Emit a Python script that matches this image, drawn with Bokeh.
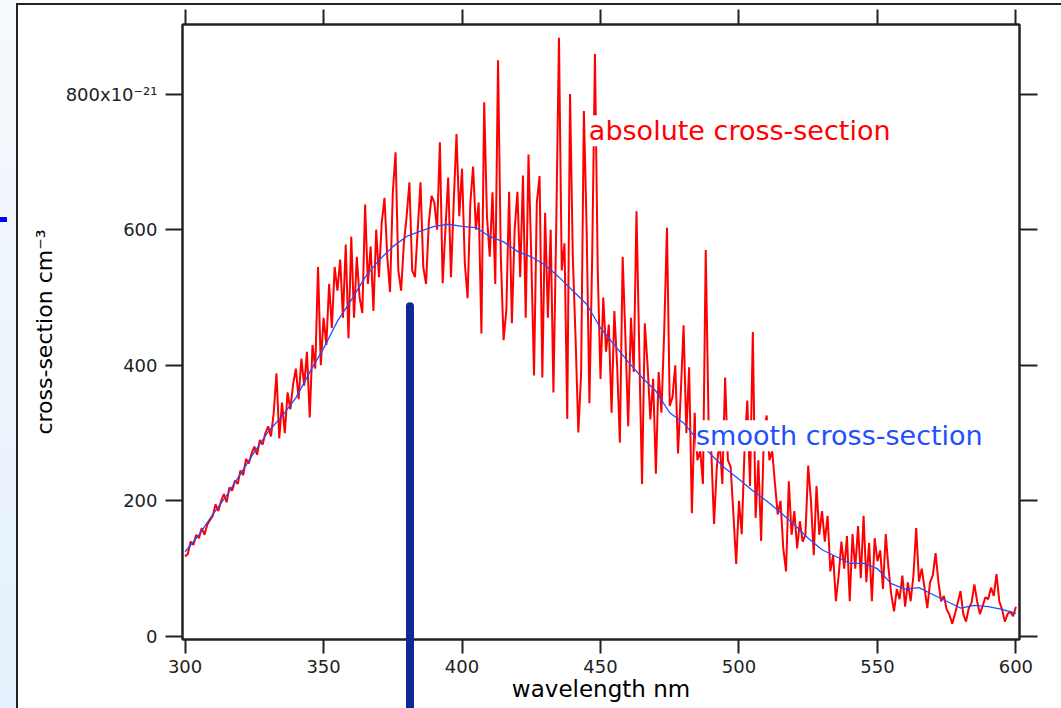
import numpy as np
from bokeh.plotting import figure
from bokeh.models import LinearAxis, Range1d, Label, FixedTicker, InlineStyleSheet
from bokeh.embed import file_html
from bokeh.resources import INLINE

# ---------------- data ----------------
wavelength_abs = list(range(300, 601))
absolute_xs = [
    118, 122, 140, 135, 150, 145, 160, 150, 165, 172,
    178, 195, 185, 200, 210, 198, 220, 215, 230, 225,
    245, 238, 262, 255, 270, 280, 268, 290, 283, 300,
    310, 295, 330, 388, 292, 345, 300, 360, 335, 372,
    395, 350, 410, 370, 420, 323, 430, 395, 545, 400,
    470, 430, 520, 455, 545, 510, 556, 470, 578, 440,
    590, 470, 560, 500, 477, 637, 520, 575, 480, 600,
    530, 610, 647, 560, 508, 655, 714, 540, 510, 580,
    620, 670, 540, 530, 600, 670, 545, 520, 610, 650,
    640, 600, 729, 521, 600, 677, 530, 640, 741, 620,
    690, 551, 499, 640, 693, 600, 640, 447, 788, 620,
    560, 655, 520, 850, 560, 437, 481, 656, 462, 600,
    656, 530, 680, 470, 711, 560, 385, 640, 679, 382,
    625, 470, 600, 360, 600, 883, 540, 580, 321, 800,
    560, 440, 301, 388, 775, 600, 344, 560, 859, 541,
    380, 500, 420, 460, 330, 480, 400, 286, 560, 440,
    310, 470, 390, 627, 420, 225, 462, 400, 320, 380,
    240, 390, 330, 450, 603, 340, 353, 400, 270, 360,
    459, 300, 397, 182, 330, 260, 274, 225, 570, 320,
    274, 166, 250, 290, 225, 382, 260, 250, 180, 107,
    200, 151, 274, 348, 222, 449, 175, 260, 141, 300,
    326, 260, 274, 225, 180, 200, 130, 96, 229, 150,
    185, 130, 170, 140, 150, 252, 200, 120, 222, 150,
    185, 140, 178, 96, 120, 52, 90, 140, 100, 148,
    52, 151, 100, 163, 86, 178, 80, 138, 52, 145,
    111, 127, 70, 151, 100, 62, 37, 70, 55, 90,
    44, 80, 52, 90, 160, 81, 100, 72, 42, 80,
    90, 123, 81, 52, 60, 40, 32, 19, 33, 50,
    67, 33, 22, 42, 50, 77, 52, 33, 45, 58,
    55, 72, 60, 92, 52, 40, 22, 33, 37, 30,
    44,
]
wavelength_smooth = list(range(300, 601, 5))
smooth_xs = [
    125, 150, 180, 208, 240, 272, 302, 325, 352, 390,
    425, 465, 496, 530, 555, 575, 590, 598, 605, 608,
    605, 603, 590, 582, 568, 560, 548, 530, 510, 490,
    455, 430, 405, 382, 362, 330, 315, 290, 268, 248,
    232, 215, 200, 183, 165, 145, 128, 118, 108, 108,
    100, 78, 70, 72, 62, 52, 42, 46, 44, 40,
    34,
]
marker_wavelength = [381.2]
marker_top = [487]
x_ticks = [300, 350, 400, 450, 500, 550, 600]
y_ticks = [0, 200, 400, 600, 800]
y_tick_labels = {0: "0", 200: "200", 400: "400", 600: "600", 800: "800x10\u207b\u00b2\u00b9"}

RED = "#ff0000"
BLUE = "#1f4fff"
NAVY = "#0b2a94"
AX = "#222222"
FONT = "DejaVu Sans"

# slide decorations around the graph window (page background + overlay pointer stub)
slide_css = InlineStyleSheet(css="""
:host {
  background:
    linear-gradient(#0000ff, #0000ff) 0px 217px / 7px 5px no-repeat,
    linear-gradient(#222, #222) 16px 3px / 1045px 2px no-repeat,
    linear-gradient(#222, #222) 16px 3px / 2px 705px no-repeat,
    linear-gradient(to bottom, #f6f9fd, #e4f0fb) 0px 0px / 16px 708px no-repeat,
    #ffffff;
}
:host::after {
  content: "";
  position: absolute;
  left: 405.5px;
  top: 600px;
  width: 8px;
  height: 108px;
  background: #0b2a94;
  pointer-events: none;
}
""")

p = figure(width=1061, height=708, output_backend="svg", toolbar_location=None,
           x_range=Range1d(299.06, 601.3), y_range=Range1d(-4.4, 902.6),
           min_border_left=182, min_border_right=42, min_border_top=24, min_border_bottom=69,
           x_axis_location=None, y_axis_location=None)
p.stylesheets = [slide_css]
p.grid.visible = False
p.outline_line_color = AX
p.outline_line_width = 2
p.background_fill_color = "white"
p.border_fill_color = None


def style(ax, ticks, out, labels=None):
    ax.ticker = FixedTicker(ticks=ticks)
    ax.axis_line_color = AX
    ax.axis_line_width = 2
    ax.major_tick_line_color = AX
    ax.major_tick_line_width = 2
    ax.major_tick_in = 0
    ax.major_tick_out = out
    ax.minor_tick_line_color = None
    ax.major_label_text_font = FONT
    ax.major_label_text_font_size = "18px"
    ax.major_label_text_color = AX
    if labels is not None:
        ax.major_label_overrides = labels


left = LinearAxis(axis_label="cross-section cm\u207b\u00b3")
style(left, y_ticks, 17, y_tick_labels)
left.major_label_standoff = 8
left.axis_label_standoff = 6
left.axis_label_text_font = FONT
left.axis_label_text_font_size = "22px"
left.axis_label_text_font_style = "normal"
left.axis_label_text_color = "black"
p.add_layout(left, "left")

bottom = LinearAxis(axis_label="wavelength nm")
style(bottom, x_ticks, 14)
bottom.major_label_standoff = 6
bottom.axis_label_standoff = 0
bottom.axis_label_text_font = FONT
bottom.axis_label_text_font_size = "23px"
bottom.axis_label_text_font_style = "normal"
bottom.axis_label_text_color = "black"
p.add_layout(bottom, "below")

top = LinearAxis()
style(top, x_ticks, 15, {t: "" for t in x_ticks})
p.add_layout(top, "above")

right = LinearAxis()
style(right, y_ticks, 18, {t: "" for t in y_ticks})
p.add_layout(right, "right")

# spectra
p.line(wavelength_abs, absolute_xs, line_color=RED, line_width=2)
p.line(wavelength_smooth, smooth_xs, line_color=BLUE, line_width=1.3)

# labels
p.add_layout(Label(x=445.8, y=746, text="absolute cross-section", text_color=RED,
                   text_font=FONT, text_font_size="27px", text_baseline="middle",
                   background_fill_color="white"))
p.add_layout(Label(x=484.5, y=296, text="smooth cross-section", text_color=BLUE,
                   text_font=FONT, text_font_size="27px", text_baseline="middle",
                   background_fill_color="white"))

# marker bar
p.segment(x0=marker_wavelength, y0=marker_top, x1=marker_wavelength, y1=[-20],
          line_color=NAVY, line_width=8, line_cap="round")

open("out.html", "w").write(file_html(p, INLINE))
